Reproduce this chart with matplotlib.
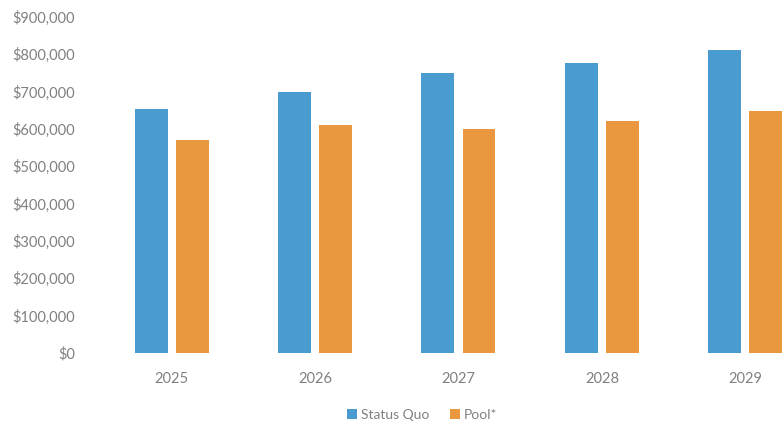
import numpy as np
import matplotlib.pyplot as plt
from matplotlib.ticker import FuncFormatter

years = ["2025", "2026", "2027", "2028", "2029"]
status_quo = [654000, 699000, 750000, 777000, 812000]
pool = [570000, 611000, 600000, 621000, 648000]

BLUE = "#4a9bd0"
ORANGE = "#e9983f"
GRAY = "#808080"

plt.rcParams['font.family'] = ['Lato', 'DejaVu Sans']

fig = plt.figure(figsize=(7.84, 4.29), dpi=100)
ax = fig.add_axes([100 / 784, 1 - 353 / 429, 1 - 100 / 784, 336 / 429])

x = np.arange(len(years))
w = 0.23
off = 0.143
ax.bar(x - off, status_quo, w, color=BLUE, label="Status Quo")
ax.bar(x + off, pool, w, color=ORANGE, label="Pool*")

ax.set_ylim(0, 900000)
ax.set_xlim(-0.5, 4.27)
ax.set_yticks(np.arange(0, 900001, 100000))
ax.yaxis.set_major_formatter(FuncFormatter(lambda v, p: f"${v:,.0f}"))
ax.set_xticks(x)
ax.set_xticklabels(years)
ax.tick_params(axis='both', length=0, colors=GRAY, labelsize=10.5)
ax.tick_params(axis='x', pad=14)
ax.tick_params(axis='y', pad=18)
for s in ax.spines.values():
    s.set_visible(False)

fig.legend(loc='center', bbox_to_anchor=(422 / 784, 1 - 415 / 429), ncol=2,
           frameon=False, fontsize=10, labelcolor=GRAY, handlelength=0.7,
           handleheight=0.7, handletextpad=0.3, columnspacing=1.5)

fig.savefig("out.png", dpi=100)
